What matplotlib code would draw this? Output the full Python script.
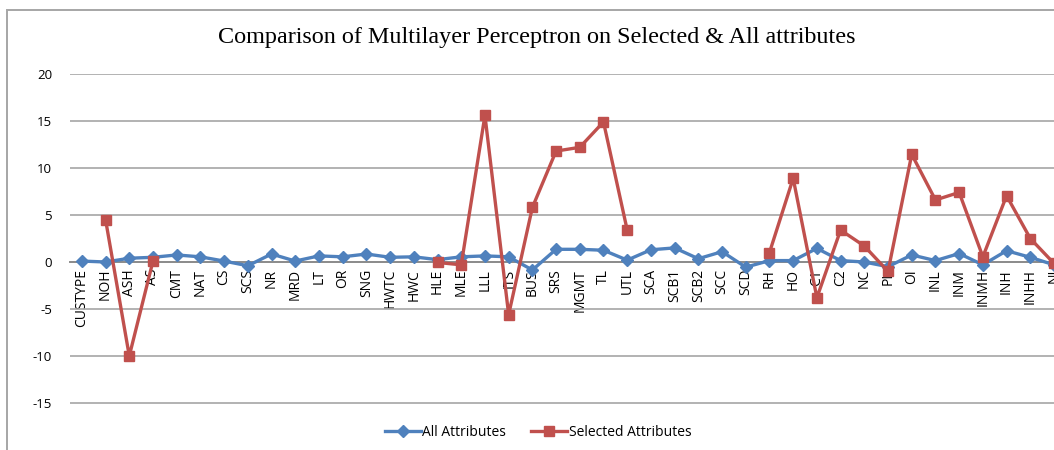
import numpy as np
import matplotlib
matplotlib.use("Agg")
import matplotlib.pyplot as plt
from matplotlib.patches import Rectangle

nan = np.nan

categories = ["CUSTYPE", "NOH", "ASH", "AS", "CMT", "NAT", "CS", "SCS", "NR", "MRD",
              "LT", "OR", "SNG", "HWTC", "HWC", "HLE", "MLE", "LLL", "ITS", "BUS",
              "SRS", "MGMT", "TL", "UTL", "SCA", "SCB1", "SCB2", "SCC", "SCD", "RH",
              "HO", "C1", "C2", "NC", "PL", "OI", "INL", "INM", "INMH", "INH",
              "INHH", "NI"]

all_attributes = [0.1, 0.0, 0.4, 0.5, 0.75, 0.55, 0.1, -0.4, 0.85, 0.1,
                  0.65, 0.55, 0.85, 0.5, 0.55, 0.25, 0.55, 0.65, 0.55, -0.85,
                  1.35, 1.35, 1.25, 0.2, 1.3, 1.5, 0.35, 1.1, -0.55, 0.15,
                  0.15, 1.45, 0.15, 0.0, -0.5, 0.75, 0.15, 0.9, -0.3, 1.2,
                  0.5, -0.3]

selected_attributes = [nan, 4.5, -10.0, 0.1, nan, nan, nan, nan, nan, nan,
                       nan, nan, nan, nan, nan, -0.05, -0.3, 15.6, -5.6, 5.8,
                       11.8, 12.2, 14.9, 3.4, nan, nan, nan, nan, nan, 1.0,
                       8.9, -3.8, 3.4, 1.7, -1.0, 11.45, 6.6, 7.4, 0.55, 7.05,
                       2.5, -0.15]

blue = "#4F81BD"
red = "#C0504D"

plt.rcParams["axes.unicode_minus"] = False

fig = plt.figure(figsize=(10.54, 4.5), dpi=100)
ax = fig.add_axes([70 / 1054, 0.0, 1 - 70 / 1054, 1 - 74 / 450])

x = np.arange(len(categories))
ax.plot(x, all_attributes, color=blue, lw=2.4, marker="D", ms=6,
        label="All Attributes", zorder=3)
ax.plot(x, selected_attributes, color=red, lw=2.4, marker="s", ms=7.5,
        label="Selected Attributes", zorder=4)

ax.set_xlim(-0.5, 41.0)
ax.set_ylim(-20, 20)
ax.set_yticks(range(-15, 21, 5))
ax.yaxis.grid(True, color="#A6A6A6", lw=1.2)
ax.set_axisbelow(True)

for side in ["left", "right", "top"]:
    ax.spines[side].set_visible(False)
ax.spines["bottom"].set_position(("data", 0))
ax.spines["bottom"].set_color("#8C8C8C")
ax.spines["bottom"].set_linewidth(1.4)

ax.set_xticks(x)
ax.set_xticklabels(categories, rotation=90, fontsize=10, family="Open Sans")
ax.tick_params(axis="x", length=0, pad=5)
ax.tick_params(axis="y", length=0, pad=13, labelsize=9.5)
for lbl in ax.get_yticklabels():
    lbl.set_family("Open Sans")

fig.text(537 / 1054, 1 - 37 / 450,
         "Comparison of Multilayer Perceptron on Selected & All attributes",
         ha="center", va="center", fontsize=17.4, family="Liberation Serif")

fig.legend(loc="center", bbox_to_anchor=(538 / 1054, 1 - 432 / 450), ncol=2,
           frameon=False, handlelength=2.6, columnspacing=1.8, handletextpad=0.1,
           prop={"family": "Open Sans", "size": 10})

# chart border (left and top visible)
fig.add_artist(Rectangle((7 / 1054, -0.1), 1.2, 1.1 - 10 / 450,
                         transform=fig.transFigure, fill=False,
                         edgecolor="#A6A6A6", lw=1.4))

fig.savefig("out.png", dpi=100)
